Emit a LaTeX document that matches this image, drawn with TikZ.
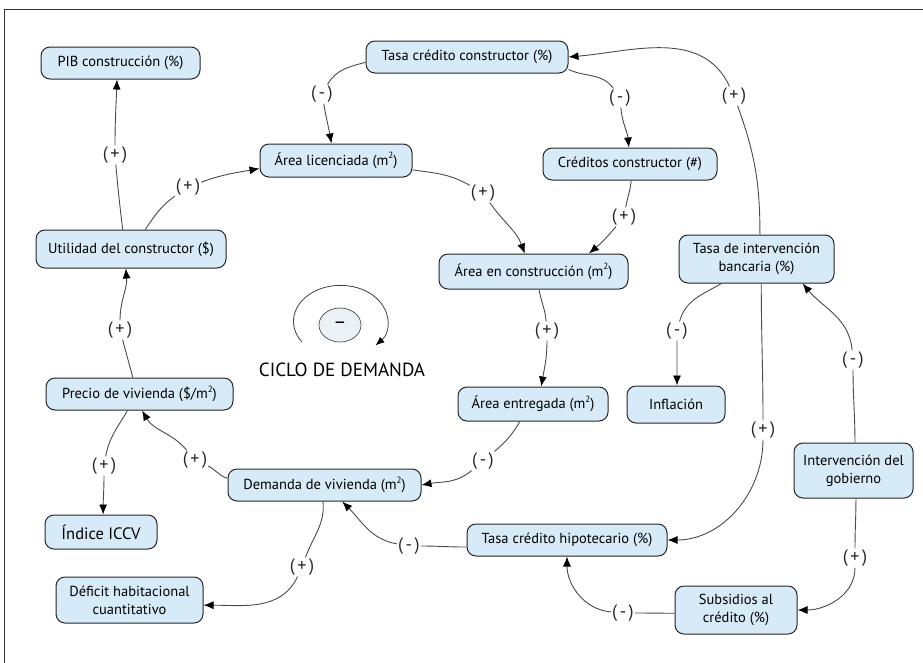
\documentclass[tikz,border=0pt]{standalone}
\usepackage{fontspec}
\setmainfont{PT Sans}
\usetikzlibrary{arrows.meta,shapes.geometric}
\definecolor{boxblue}{HTML}{D6EAF8}
\definecolor{linegray}{HTML}{4A4A4A}
\def\txt{\fontsize{14.5}{18}\selectfont}
\def\sq#1{\raisebox{0.9ex}{\fontsize{9}{9}\selectfont #1}}
\tikzset{
  box/.style={draw=black!85, line width=1pt, fill=boxblue, rounded corners=9pt,
    minimum height=32pt, inner sep=0pt, align=center, font=\txt},
  sgn/.style={fill=white, inner sep=1pt, text=black!85, font=\fontsize{18}{18}\selectfont},
  link/.style={draw=linegray, line width=0.9pt, -{Latex[length=10pt,width=8pt,black]}}
}

\begin{document}
\begin{tikzpicture}[x=1pt,y=-1pt]
\useasboundingbox (0,0) rectangle (923,662);
\draw[line width=1pt, black!80] (4.5,9) rectangle (940,680);

\node[box, minimum width=159pt] (pib) at (120.5,63) {PIB construcción (\%)};
\node[box, minimum width=202pt] (tcc) at (467,57) {Tasa crédito constructor (\%)};
\node[box, minimum width=152pt, minimum height=33pt] (alic) at (336,160.5) {Área licenciada (m\sq{2})};
\node[box, minimum width=174pt] (ccon) at (630,164) {Créditos constructor (\#)};
\node[box, minimum width=190pt, minimum height=38pt] (util) at (131,249) {Utilidad del constructor (\$)};
\node[box, minimum width=189pt, minimum height=35pt] (acon) at (533.5,271.5) {Área en construcción (m\sq{2})};
\node[box, minimum width=155pt, minimum height=48pt] (tib) at (756.5,259) {Tasa de intervención\\bancaria (\%)};
\node[box, minimum width=187pt] (prec) at (139.5,394) {Precio de vivienda (\$/m\sq{2})};
\node[box, minimum width=150pt, minimum height=34pt] (aent) at (533,404) {Área entregada (m\sq{2})};
\node[box, minimum width=98pt, minimum height=37pt] (infl) at (676,404.5) {Inflación};
\node[box, minimum width=193pt] (dem) at (324.5,485) {Demanda de vivienda (m\sq{2})};
\node[box, minimum width=112pt, minimum height=34pt, font=\fontsize{16.5}{19}\selectfont] (iccv) at (101,532) {Índice ICCV};
\node[box, minimum width=119pt, minimum height=55pt] (gob) at (853.5,470.5) {Intervención del\\gobierno};
\node[box, minimum width=200pt] (tch) at (567,540) {Tasa crédito hipotecario (\%)};
\node[box, minimum width=147pt, minimum height=46pt] (def) at (129.5,600) {Déficit habitacional\\cuantitativo};
\node[box, minimum width=122pt, minimum height=48pt] (sub) at (736,610) {Subsidios al\\crédito (\%)};

\node[ellipse, draw=black!70, line width=0.7pt, fill=black!5!boxblue!40, minimum width=42pt, minimum height=34pt,
  font=\fontsize{20}{20}\selectfont] (cyc) at (340,325) {–};
\coordinate (arcstart) at (302,342);
\draw[line width=0.8pt, black!75, -{Latex[length=9pt,width=7pt,black]}] (arcstart) arc[start angle=215, end angle=-42, x radius=47pt, y radius=36pt];
\node[font=\fontsize{19}{22}\selectfont] (cdd) at (342,370) {CICLO DE DEMANDA};

\foreach \n/\x/\y/\s in {s1/115/155/+, s2/188/187/+, s3/322/94/-, s4/620/98/-, s5/734/96/+,
  s6/483/193/+, s7/624/217/+, s8/547/331/+, s9/677/331/-, s10/853/360/-, s11/763/430/+,
  s12/483/461/-, s13/195/460/+, s14/120/330/+, s15/104/466/+, s16/302/567/+,
  s17/409/546/-, s18/623/613/-, s19/855/558/+}
  \node[sgn] (\n) at (\x,\y) {(\kern2.5pt\s\kern2.5pt)};

\draw[link] (util.113) to[out=97,in=275] (s1) to[out=90,in=268] (pib.258);
\draw[link] (util.54) to[out=55,in=215] (s2) to[out=20,in=190] (alic.186);
\draw[link] (tcc.183) to[out=195,in=60] (s3) to[out=-80,in=100] (alic.105);
\draw[link] (tcc.353) to[out=-25,in=125] (s4) to[out=-85,in=95] (ccon.94);
\draw[link] (tib.82) to[out=90,in=-70] (s5) to[out=115,in=5] (tcc.east);
\draw[link] (alic.353) to[out=-8,in=150] (s6) to[out=-55,in=110] (acon.116);
\draw[link] (ccon.274) to[out=-95,in=80] (s7) to[out=-130,in=40] (acon.18);
\draw[link] (acon.287) to[out=-80,in=95] (s8) to[out=-90,in=80] (aent.65);
\draw[link] (tib.215) to[out=-150,in=75] (s9) to[out=-90,in=90] (infl.87);
\draw[link] (gob.87) to[out=90,in=-90] (s10) to[out=95,in=-50] (tib.332);
\draw[link] (tib.281) to[out=-90,in=90] (s11) to[out=-90,in=0] (tch.east);
\draw[link] (aent.233) to[out=-120,in=40] (s12) to[out=-140,in=10] (dem.east);
\draw[link] (dem.176) to[out=165,in=-25] (s13) to[out=130,in=-60] (prec.279);
\draw[link] (prec.112) to[out=105,in=-75] (s14) to[out=90,in=-85] (util.255);
\draw[link] (prec.234) to[out=-120,in=80] (s15) to[out=-90,in=90] (iccv.83);
\draw[link] (dem.265) to[out=-85,in=70] (s16) to[out=-115,in=0] (def.356);
\draw[link] (tch.184) to[out=180,in=0] (s17) to[out=170,in=-45] (dem.317);
\draw[link] (sub.183) to[out=180,in=0] (s18) to[out=175,in=-90] (tch.270);
\draw[link] (gob.275) to[out=-90,in=90] (s19) to[out=-90,in=0] (sub.east);
\end{tikzpicture}
\end{document}
